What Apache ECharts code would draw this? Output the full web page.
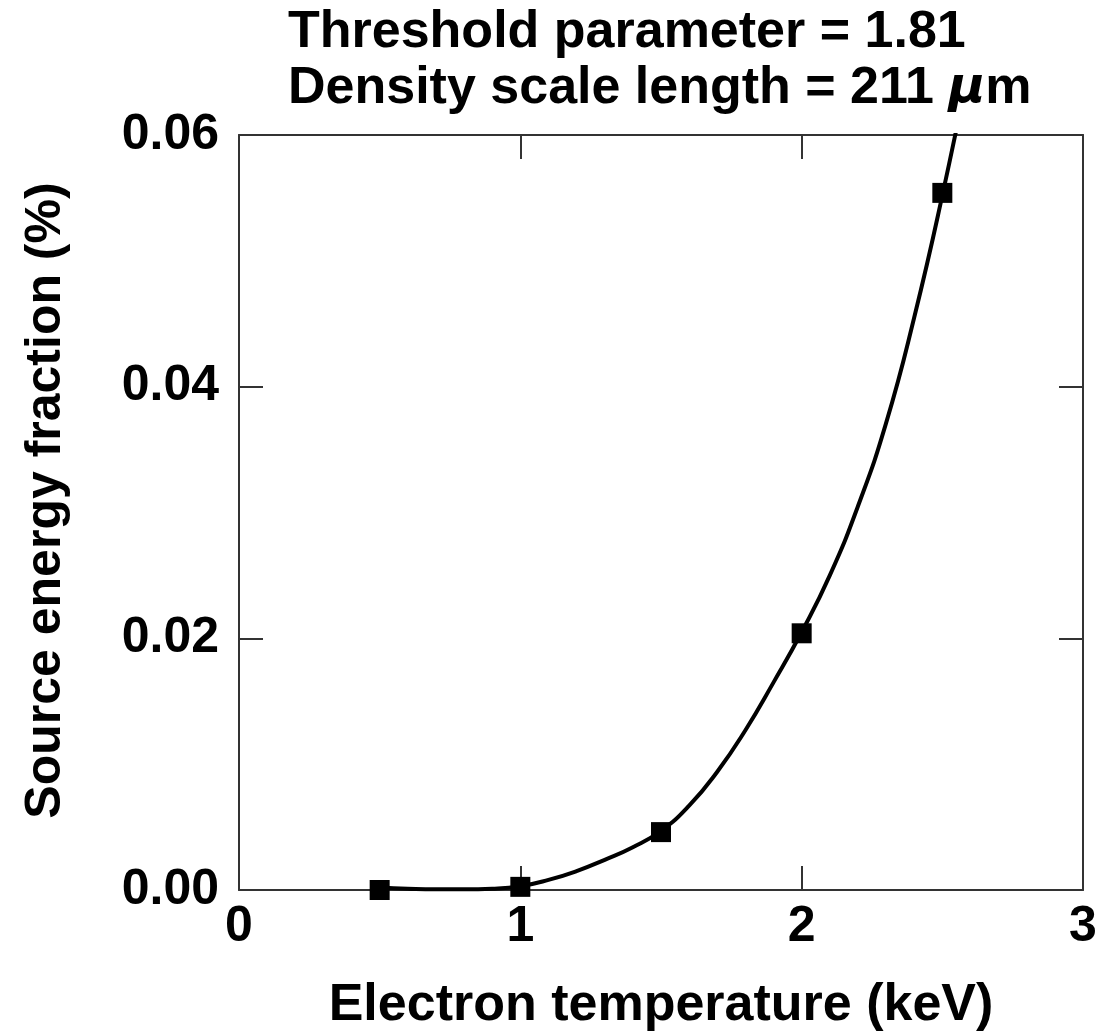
<!DOCTYPE html>
<html>
<head>
<meta charset="utf-8">
<script src="https://cdn.jsdelivr.net/npm/echarts@6/dist/echarts.min.js"></script>
<style>html,body{margin:0;padding:0;background:#fff;}#c{width:1095px;height:1032px;}</style>
</head>
<body>
<div id="c"></div>
<script>
// Measured points (electron temperature keV, source energy fraction %)
const pointX = [0.5, 1.0, 1.5, 2.0, 2.5];
const pointY = [0.0000, 0.00025, 0.0046, 0.0204, 0.0554];
// Fitted curve
const curveX = [0.5, 0.6, 0.7, 0.8, 0.9, 1.0, 1.1, 1.2, 1.3, 1.4, 1.5, 1.6, 1.7, 1.8, 1.9, 2.0, 2.1, 2.2, 2.3, 2.4, 2.5, 2.6];
const curveY = [0.0002, 0.0001, 0.00005, 0.00005, 0.0001, 0.0003, 0.0008, 0.0015, 0.0024, 0.0034, 0.0047, 0.0067, 0.0094, 0.0127, 0.0165, 0.0205, 0.0250, 0.0305, 0.0371, 0.0455, 0.0552, 0.0660];
const xTicks = [0, 1, 2, 3];
const yTicks = ['0.00', '0.02', '0.04', '0.06'];
const titleLine1 = 'Threshold parameter = 1.81';
const titleLine2a = 'Density scale length = 211 ';
const titleMu = 'μ';
const titleLine2b = 'm';

const FONT = '"Liberation Sans", Arial, Helvetica, sans-serif';
const chart = echarts.init(document.getElementById('c'), null, {renderer: 'canvas'});
const axisLine = {show: true, onZero: false, lineStyle: {color: '#333', width: 2}};
const tick = {show: true, inside: true, length: 24, lineStyle: {color: '#333', width: 2}};
chart.setOption({
  animation: false,
  backgroundColor: '#fff',
  title: {
    left: 283, top: 0,
    text: '{a|' + titleLine1 + '}\n{a|' + titleLine2a + '}{mu|' + titleMu + '}{a|' + titleLine2b + '}',
    textStyle: {
      rich: {
        a: {fontFamily: FONT, fontWeight: 'bold', fontSize: 52, color: '#000', lineHeight: 56},
        mu: {fontFamily: '"DejaVu Sans", sans-serif', fontStyle: 'italic', fontWeight: 'bold', fontSize: 50, color: '#000', lineHeight: 56}
      }
    }
  },
  grid: {left: 239, right: 12, top: 135, bottom: 142, containLabel: false, outerBoundsMode: 'none'},
  xAxis: [{
    type: 'value', min: 0, max: 3, interval: 1,
    name: 'Electron temperature (keV)', nameLocation: 'middle', nameGap: 90,
    nameTextStyle: {fontFamily: FONT, fontWeight: 'bold', fontSize: 52, color: '#000'},
    axisLine: axisLine, axisTick: tick, splitLine: {show: false},
    axisLabel: {fontFamily: FONT, fontWeight: 'bold', fontSize: 50, color: '#000', margin: 12,
      showMinLabel: true, showMaxLabel: true,
      formatter: v => String(xTicks[Math.round(v)])}
  }, {
    type: 'value', min: 0, max: 3, interval: 1, position: 'top',
    axisLine: axisLine, axisTick: tick, axisLabel: {show: false}, splitLine: {show: false}
  }],
  yAxis: [{
    type: 'value', min: 0, max: 0.06, interval: 0.02,
    name: 'Source energy fraction (%)', nameLocation: 'middle', nameGap: 168, nameRotate: 90,
    nameTextStyle: {fontFamily: FONT, fontWeight: 'bold', fontSize: 50, color: '#000', padding: [0, 0, 0, 24]},
    axisLine: axisLine, axisTick: tick, splitLine: {show: false},
    axisLabel: {fontFamily: FONT, fontWeight: 'bold', fontSize: 50, color: '#000', margin: 20,
      formatter: v => yTicks[Math.round(v / 0.02)]}
  }, {
    type: 'value', min: 0, max: 0.06, interval: 0.02, position: 'right',
    axisLine: axisLine, axisTick: tick, axisLabel: {show: false}, splitLine: {show: false}
  }],
  series: [{
    type: 'line', xAxisIndex: 0, yAxisIndex: 0,
    data: curveX.map((x, i) => [x, curveY[i]]),
    smooth: 0.5, showSymbol: false, clip: true,
    lineStyle: {color: '#000', width: 4}, z: 2
  }, {
    type: 'scatter', xAxisIndex: 0, yAxisIndex: 0,
    data: pointX.map((x, i) => [x, pointY[i]]),
    symbol: 'rect', symbolSize: 20, itemStyle: {color: '#000', opacity: 1}, z: 3
  }]
});
</script>
</body>
</html>
